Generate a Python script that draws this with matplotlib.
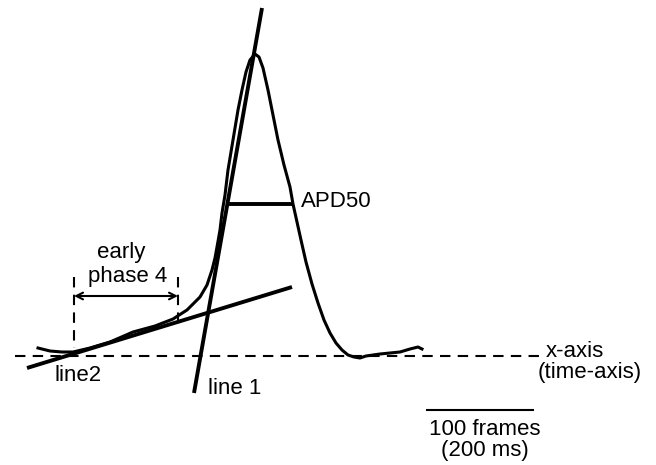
import matplotlib
matplotlib.use("Agg")
import matplotlib.pyplot as plt

plt.rcParams['font.family'] = ['Liberation Sans', 'DejaVu Sans']

# Action-potential trace (image-space coordinates: x right, y down)
trace_x = [38, 50, 62, 73, 90, 110, 133, 155, 173, 187, 200, 207, 212, 215, 217, 220, 222,
           225, 228, 233, 238, 242, 246, 250, 255, 259, 263, 268, 273, 278, 284, 290,
           293, 297, 301, 306, 312, 318, 324, 330, 336, 342, 348, 354, 360, 366, 373, 380, 390,
           400, 410, 418, 422]
trace_y = [348, 351, 352, 352, 348, 342, 332, 326, 319, 310, 297, 285, 270, 258, 247, 230, 213,
           195, 170, 140, 110, 90, 72, 60, 54, 57, 68, 90, 115, 140, 165, 187,
           204, 222, 240, 262, 284, 303, 320, 333, 343, 350, 355, 357, 358, 356, 355, 354, 353,
           352, 349, 347, 349]

line1_x = [194, 262]
line1_y = [393, 8]
line2_x = [27, 292]
line2_y = [368, 287]
baseline_x = [15, 542]
baseline_y = [356, 356]
apd50_x = [227, 292]
apd50_y = [204, 204]
phase4_x = [74, 178]
phase4_top = 277
phase4_bottom = [348, 320]
arrow_y = 296
scalebar_x = [427, 533]
scalebar_y = [410, 410]

fig = plt.figure(figsize=(6.56, 4.65), dpi=100)
ax = fig.add_axes([0, 0, 1, 1])
ax.set_xlim(0, 656)
ax.set_ylim(465, 0)
ax.axis('off')

ax.plot(baseline_x, baseline_y, color='black', lw=1.5, ls=(0, (5, 3.5)))
ax.plot(trace_x, trace_y, color='black', lw=2.2, solid_joinstyle='round')
ax.plot(line1_x, line1_y, color='black', lw=2.8, solid_capstyle='butt')
ax.plot(line2_x, line2_y, color='black', lw=2.8, solid_capstyle='butt')
ax.plot(apd50_x, apd50_y, color='black', lw=2.8, solid_capstyle='butt')
for x, yb in zip(phase4_x, phase4_bottom):
    ax.plot([x, x], [phase4_top, yb], color='black', lw=1.5, ls=(0, (5, 3.5)))
ax.annotate('', xy=(phase4_x[0], arrow_y), xytext=(phase4_x[1], arrow_y),
            arrowprops=dict(arrowstyle='<->', color='black', lw=1.5,
                            shrinkA=0, shrinkB=0, mutation_scale=12))
ax.plot(scalebar_x, scalebar_y, color='black', lw=1.5)

fs = 16
ax.text(121, 252, 'early', fontsize=fs, ha='center', va='center')
ax.text(128, 276, 'phase 4', fontsize=fs, ha='center', va='center')
ax.text(301, 201, 'APD50', fontsize=fs, ha='left', va='center')
ax.text(54, 375, 'line2', fontsize=fs, ha='left', va='center')
ax.text(208, 388, 'line 1', fontsize=fs, ha='left', va='center')
ax.text(546, 351, 'x-axis', fontsize=fs, ha='left', va='center')
ax.text(590, 372, '(time-axis)', fontsize=fs, ha='center', va='center')
ax.text(485, 429, '100 frames', fontsize=fs, ha='center', va='center')
ax.text(485, 450, '(200 ms)', fontsize=fs, ha='center', va='center')

fig.savefig('out.png', dpi=100, facecolor='white')
